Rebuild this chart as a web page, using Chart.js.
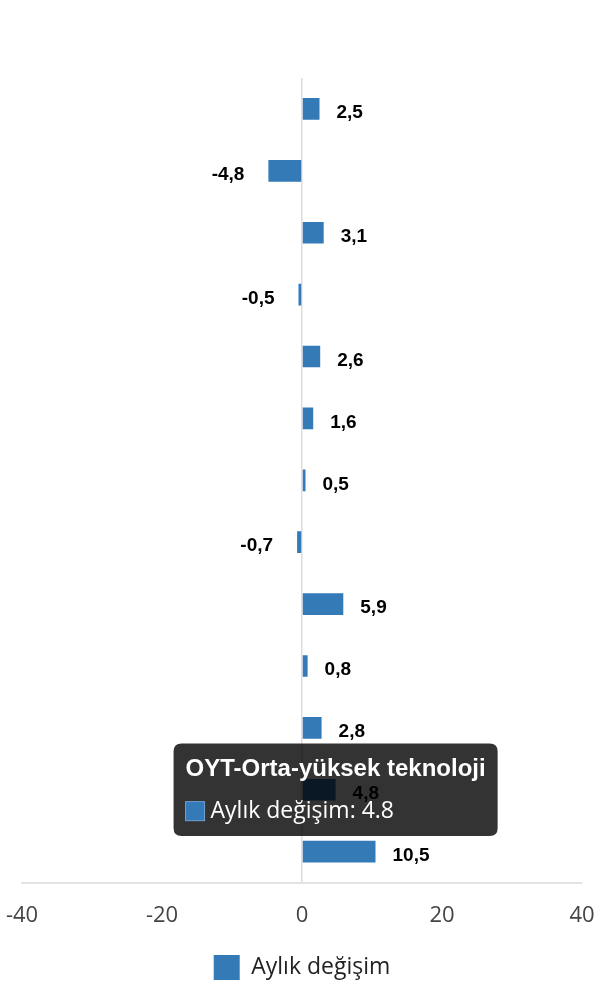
<!DOCTYPE html>
<html>
<head>
<meta charset="utf-8">
<script src="https://cdn.jsdelivr.net/npm/chart.js"></script>
<style>
  body { margin: 0; background: #fff; }
  #wrap { width: 600px; height: 1000px; }
</style>
</head>
<body>
<div id="wrap"><canvas id="changeChart"></canvas></div>
<script>
const categories = [
    'Toplam sanayi',
    'Madencilik ve taşocakçılığı',
    'İmalat sanayi',
    'Elektrik, gaz, buhar',
    'Ara malı',
    'Dayanıklı tüketim malı',
    'Dayanıksız tüketim malı',
    'Enerji',
    'Sermaye malı',
    'YT-Yüksek teknoloji',
    'ODT-Orta-düşük teknoloji',
    'OYT-Orta-yüksek teknoloji',
    'DT-Düşük teknoloji'
];
const monthlyChange = [2.5, -4.8, 3.1, -0.5, 2.6, 1.6, 0.5, -0.7, 5.9, 0.8, 2.8, 4.8, 10.5];
const seriesName = 'Aylık değişim';
const xTicks = { min: -40, max: 40, step: 20 };
const hoveredIndex = 11;

const barColor = '#337ab7';

// value labels next to each bar, comma as decimal separator
const valueLabels = {
    id: 'valueLabels',
    afterDatasetsDraw(chart) {
        const ctx = chart.ctx;
        const meta = chart.getDatasetMeta(0);
        ctx.save();
        ctx.font = "bold 19px 'Liberation Sans', Arial, sans-serif";
        ctx.fillStyle = '#000';
        ctx.textBaseline = 'middle';
        meta.data.forEach((bar, i) => {
            const v = monthlyChange[i];
            const text = v.toFixed(1).replace('.', ',');
            if (v >= 0) {
                ctx.textAlign = 'left';
                ctx.fillText(text, bar.x + 17, bar.y + 4);
            } else {
                ctx.textAlign = 'right';
                ctx.fillText(text, bar.x - 24, bar.y + 4);
            }
        });
        ctx.restore();
    }
};

const tipPlugin = Chart.Tooltip || Chart.registry.getPlugin('tooltip');
tipPlugin.positioners.barEnd = function (items) {
    if (!items.length) return false;
    const el = items[0].element;
    return { x: el.x, y: el.y };
};

const ctx = document.getElementById('changeChart').getContext('2d');
const myChart = new Chart(ctx, {
    type: 'bar',
    data: {
        labels: categories,
        datasets: [{
            label: seriesName,
            data: monthlyChange,
            backgroundColor: barColor,
            borderColor: barColor,
            borderWidth: 0,
            barPercentage: 0.35,
            categoryPercentage: 1.0
        }]
    },
    plugins: [valueLabels],
    options: {
        indexAxis: 'y',
        responsive: true,
        maintainAspectRatio: false,
        animation: false,
        events: [],
        layout: {
            padding: { top: 78, left: 22, right: 18, bottom: 10 }
        },
        scales: {
            x: {
                min: xTicks.min,
                max: xTicks.max,
                ticks: {
                    stepSize: xTicks.step,
                    padding: 4,
                    color: '#444',
                    font: { family: "'Open Sans', sans-serif", size: 22 }
                },
                grid: {
                    drawTicks: true,
                    tickLength: 16,
                    tickColor: 'rgba(0,0,0,0)',
                    lineWidth: 1.5,
                    color: c => (c.tick && c.tick.value === 0) ? '#dddddd' : 'rgba(0,0,0,0)'
                },
                border: { color: '#e3e3e3', width: 2 }
            },
            y: {
                display: false
            }
        },
        plugins: {
            legend: {
                position: 'bottom',
                labels: {
                    boxWidth: 26,
                    boxHeight: 25,
                    padding: 22,
                    color: '#222',
                    font: { family: "'Open Sans', sans-serif", size: 23 }
                }
            },
            tooltip: {
                position: 'barEnd',
                xAlign: 'center',
                yAlign: 'center',
                caretSize: 0,
                cornerRadius: 8,
                padding: { x: 12, y: 11 },
                titleFont: { family: "'Liberation Sans', Arial, sans-serif", size: 24, weight: 'bold' },
                titleMarginBottom: 14,
                bodyFont: { family: "'Open Sans', sans-serif", size: 23 },
                boxWidth: 19,
                boxHeight: 19,
                boxPadding: 4,
                multiKeyBackground: barColor,
                callbacks: {
                    labelColor: () => ({ borderColor: '#6fa3d6', backgroundColor: barColor, borderWidth: 1 })
                }
            }
        }
    }
});

myChart.tooltip.setActiveElements([{ datasetIndex: 0, index: hoveredIndex }], { x: 0, y: 0 });
myChart.update();
</script>
</body>
</html>
